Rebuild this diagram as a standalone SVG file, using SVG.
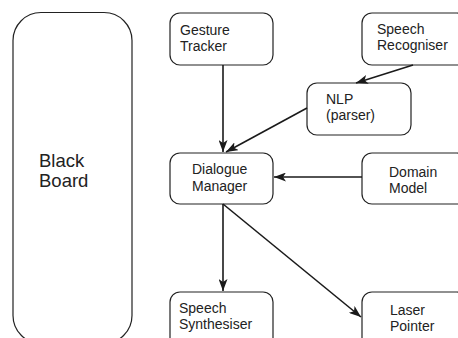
<svg xmlns="http://www.w3.org/2000/svg" width="458" height="338" viewBox="0 0 458 338">
<style>
.box{fill:#fff;stroke:#222;stroke-width:1.2}
.t{font-family:"Liberation Sans",Arial,sans-serif;font-size:14px;fill:#222}
.big{font-size:18.5px}
.c{stroke:#1a1a1a;stroke-width:1.6;fill:none;marker-end:url(#ah)}
</style>
<defs>
<marker id="ah" viewBox="0 0 12 9" refX="12" refY="4.5" markerWidth="12" markerHeight="9" markerUnits="userSpaceOnUse" orient="auto">
<path d="M0,0 L12,4.5 L0,9 L3,4.5 Z" fill="#1a1a1a"/>
</marker>
</defs>
<rect width="458" height="338" fill="#fff"/>
<g id="blackboard">
<rect class="box" x="13" y="12.5" width="119" height="331" rx="28"/>
<text class="t big" x="39" y="167">Black</text>
<text class="t big" x="39" y="187">Board</text>
</g>
<g id="gesture">
<rect class="box" x="170" y="13" width="103" height="52" rx="10"/>
<text class="t" x="180" y="35">Gesture</text>
<text class="t" x="180" y="51">Tracker</text>
</g>
<g id="speechrec">
<rect class="box" x="362" y="13" width="105" height="52" rx="10"/>
<text class="t" x="377" y="34">Speech</text>
<text class="t" x="377" y="50">Recogniser</text>
</g>
<g id="nlp">
<rect class="box" x="307" y="83" width="104" height="52" rx="10"/>
<text class="t" x="326" y="104">NLP</text>
<text class="t" x="326" y="120">(parser)</text>
</g>
<g id="dialogue">
<rect class="box" x="170" y="153" width="103" height="51" rx="10"/>
<text class="t" x="192" y="174">Dialogue</text>
<text class="t" x="192" y="191">Manager</text>
</g>
<g id="domain">
<rect class="box" x="362" y="153" width="105" height="51" rx="10"/>
<text class="t" x="389" y="177">Domain</text>
<text class="t" x="389" y="193">Model</text>
</g>
<g id="synth">
<rect class="box" x="170" y="292" width="103" height="60" rx="10"/>
<text class="t" x="179" y="313">Speech</text>
<text class="t" x="179" y="329">Synthesiser</text>
</g>
<g id="laser">
<rect class="box" x="362" y="292" width="105" height="60" rx="10"/>
<text class="t" x="390" y="315">Laser</text>
<text class="t" x="390" y="331">Pointer</text>
</g>
<g id="connectors">
<line class="c" x1="223" y1="65" x2="223" y2="152"/>
<line class="c" x1="413" y1="65" x2="356" y2="83"/>
<line class="c" x1="307" y1="108" x2="226" y2="152"/>
<line class="c" x1="362" y1="177" x2="274" y2="177"/>
<line class="c" x1="223" y1="204" x2="223" y2="291"/>
<line class="c" x1="223" y1="204" x2="361" y2="317"/>
</g>
</svg>
